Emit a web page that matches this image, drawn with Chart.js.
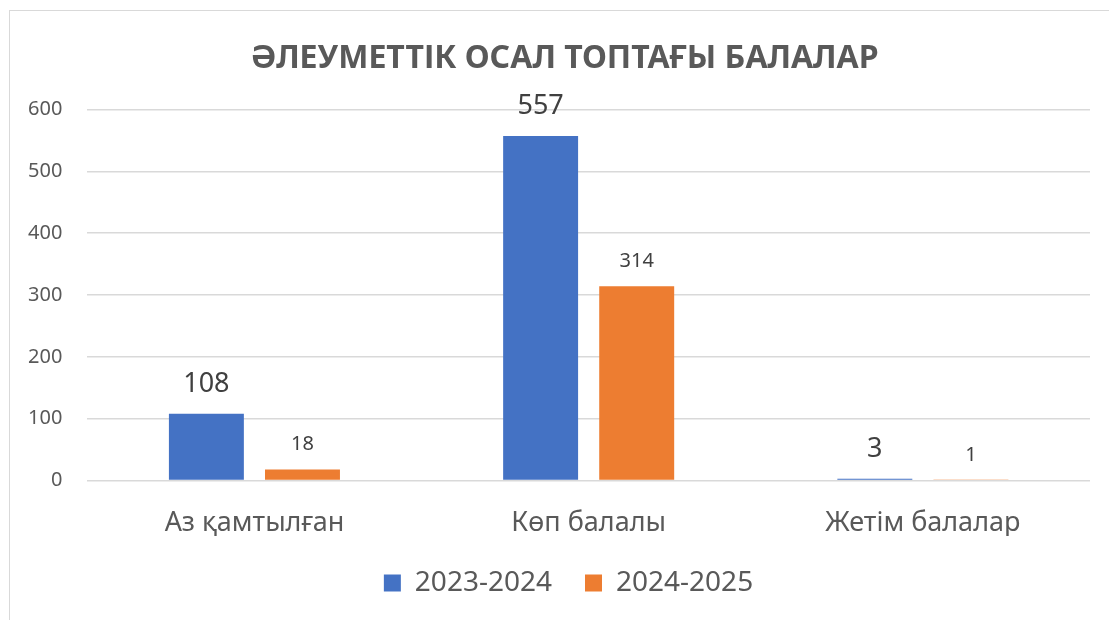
<!DOCTYPE html>
<html lang="kk">
<head>
    <meta charset="UTF-8">
    <title>Әлеуметтік осал топтағы балалар</title>
    <script src="https://cdn.jsdelivr.net/npm/chart.js"></script>
    <style>
        body {
            margin: 0;
            background: #fff;
            overflow: hidden;
        }

        .frame {
            position: absolute;
            left: 9px;
            top: 10px;
            width: 1200px;
            height: 700px;
            border: 1px solid #d9d9d9;
        }

        #wrap {
            position: absolute;
            left: 0;
            top: 0;
            width: 1109px;
            height: 620px;
        }
    </style>
</head>
<body>
    <div class="frame"></div>
    <div id="wrap"><canvas id="chart"></canvas></div>

    <script>
        // Data
        const categories = ['Аз қамтылған', 'Көп балалы', 'Жетім балалар'];
        const series2023 = [108, 557, 3];
        const series2024 = [18, 314, 1];
        const yTicks = [0, 100, 200, 300, 400, 500, 600];

        const fontFamily = "'Noto Sans', 'Open Sans', sans-serif";

        // Value labels above bars
        const barLabels = {
            id: 'barLabels',
            afterDatasetsDraw(chart) {
                const ctx = chart.ctx;
                ctx.save();
                ctx.textAlign = 'center';
                ctx.textBaseline = 'bottom';
                chart.data.datasets.forEach((ds, i) => {
                    const meta = chart.getDatasetMeta(i);
                    ctx.font = ds.labelSize + 'px ' + fontFamily;
                    ctx.fillStyle = '#404040';
                    meta.data.forEach((bar, j) => {
                        ctx.fillText(ds.data[j], bar.x, bar.y - ds.labelGap);
                    });
                });
                ctx.restore();
            }
        };

        // Title and legend sit a bit right of the canvas centre in the original
        const nudgeBlocks = {
            id: 'nudgeBlocks',
            afterLayout(chart) {
                chart.titleBlock.left += 18;
                chart.titleBlock.right += 18;
                chart.legend.left += 22;
                chart.legend.right += 22;
            }
        };

        new Chart(document.getElementById('chart'), {
            type: 'bar',
            data: {
                labels: categories,
                datasets: [
                    {
                        label: '2023-2024',
                        data: series2023,
                        backgroundColor: '#4472c4',
                        labelSize: 27,
                        labelGap: 16
                    },
                    {
                        label: '2024-2025',
                        data: series2024,
                        backgroundColor: '#ed7d31',
                        labelSize: 20,
                        labelGap: 15
                    }
                ]
            },
            options: {
                responsive: true,
                maintainAspectRatio: false,
                animation: false,
                categoryPercentage: 0.575,
                barPercentage: 0.78,
                layout: {
                    padding: { left: 3, right: 19, top: 10, bottom: 13 }
                },
                plugins: {
                    title: {
                        display: true,
                        text: 'ӘЛЕУМЕТТІК ОСАЛ ТОПТАҒЫ БАЛАЛАР',
                        color: '#595959',
                        font: { family: fontFamily, size: 32, weight: 'bold' },
                        padding: { top: 30, bottom: 31 }
                    },
                    legend: {
                        position: 'bottom',
                        labels: {
                            color: '#595959',
                            font: { family: fontFamily, size: 28 },
                            boxWidth: 17,
                            boxHeight: 17,
                            padding: 33
                        }
                    },
                    tooltip: { enabled: false }
                },
                scales: {
                    x: {
                        grid: { display: false },
                        border: { display: false },
                        ticks: {
                            color: '#595959',
                            font: { family: fontFamily, size: 27 },
                            padding: 19
                        },
                        // legend padding is large for item spacing; take the extra back here
                        afterFit(scale) {
                            scale.height -= 23;
                        }
                    },
                    y: {
                        min: 0,
                        max: 600,
                        afterBuildTicks(axis) {
                            axis.ticks = yTicks.map(v => ({ value: v }));
                        },
                        grid: { color: '#d9d9d9', lineWidth: 1.5, drawTicks: false },
                        border: { display: false },
                        ticks: {
                            color: '#595959',
                            font: { family: fontFamily, size: 20 },
                            padding: 25
                        }
                    }
                }
            },
            plugins: [barLabels, nudgeBlocks]
        });
    </script>
</body>
</html>
